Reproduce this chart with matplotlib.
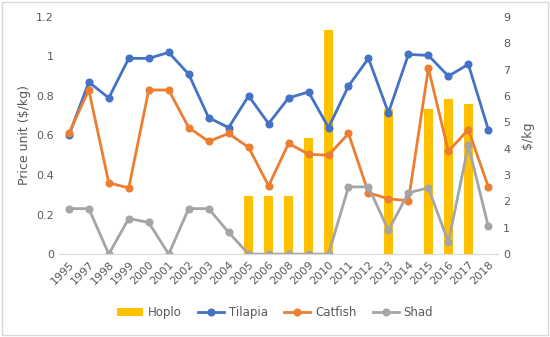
import numpy as np
import matplotlib.pyplot as plt

plt.rcParams['font.family'] = 'DejaVu Sans'

# ------------------------------------------------------------
# data
# ------------------------------------------------------------
years = ['1995', '1997', '1998', '1999', '2000', '2001', '2002', '2003', '2004',
         '2005', '2006', '2008', '2009', '2010', '2011', '2012', '2013', '2014',
         '2015', '2016', '2017', '2018']

hoplo = [0, 0, 0, 0, 0, 0, 0, 0, 0,
         2.2, 2.2, 2.2, 4.4, 8.5, 0, 0, 5.5, 0, 5.5, 5.9, 5.7, 0]

tilapia = [0.60, 0.87, 0.79, 0.99, 0.99, 1.02, 0.91, 0.69, 0.64,
           0.80, 0.66, 0.79, 0.82, 0.64, 0.85, 0.99, 0.715, 1.01,
           1.005, 0.90, 0.96, 0.63]

catfish = [0.61, 0.83, 0.36, 0.335, 0.83, 0.83, 0.64, 0.57, 0.61,
           0.54, 0.345, 0.56, 0.505, 0.50, 0.61, 0.31, 0.28, 0.27,
           0.94, 0.52, 0.63, 0.34]

shad = [0.23, 0.23, 0.0, 0.18, 0.16, 0.0, 0.23, 0.23, 0.11,
        0.0, 0.0, 0.0, 0.0, 0.0, 0.34, 0.34, 0.12, 0.31,
        0.335, 0.06, 0.55, 0.14]

# colours (office palette)
c_hoplo = '#FFC000'
c_tilapia = '#4472C4'
c_catfish = '#ED7D31'
c_shad = '#A5A5A5'
txt = '#595959'

fig = plt.figure(figsize=(5.5, 3.37), dpi=100)
ax = fig.add_axes([0.107, 0.246, 0.799, 0.704])
ax2 = ax.twinx()

x = np.arange(len(years))

# bars on the secondary axis
ax2.bar(x, hoplo, width=0.42, color=c_hoplo, label='Hoplo', zorder=1)
ax2.set_ylim(0, 9)
ax2.set_yticks(range(0, 10))
ax2.set_ylabel('$/kg', color=txt, fontsize=9, labelpad=8, rotation=90)

# lines on primary axis, drawn above bars
ax.set_zorder(ax2.get_zorder() + 1)
ax.patch.set_visible(False)
lw, ms = 2, 4.8
ax.plot(x, tilapia, '-o', color=c_tilapia, lw=lw, ms=ms, label='Tilapia')
ax.plot(x, catfish, '-o', color=c_catfish, lw=lw, ms=ms, label='Catfish')
ax.plot(x, shad, '-o', color=c_shad, lw=lw, ms=ms, label='Shad')

ax.set_ylim(0, 1.2)
ax.set_yticks([0, 0.2, 0.4, 0.6, 0.8, 1.0, 1.2])
ax.set_yticklabels(['0', '0.2', '0.4', '0.6', '0.8', '1', '1.2'])
ax.set_xlim(-0.5, len(years) - 0.5)
ax.set_xticks(x)
ax.set_xticklabels(years, rotation=45, ha='right', rotation_mode='anchor')
ax.set_ylabel('Price unit ($/kg)', color=txt, fontsize=9)

for a in (ax, ax2):
    for s in a.spines.values():
        s.set_visible(False)
    a.tick_params(length=0, colors=txt, labelsize=8)
ax.spines['bottom'].set_visible(True)
ax.spines['bottom'].set_color('#D9D9D9')
ax.tick_params(axis='x', pad=4)

# legend at the bottom
h1, l1 = ax2.get_legend_handles_labels()
h2, l2 = ax.get_legend_handles_labels()
fig.legend(h1 + h2, l1 + l2, loc='center', bbox_to_anchor=(0.5, 0.072),
           ncol=4, frameon=False, fontsize=8.5, labelcolor=txt,
           handlelength=2.2, handletextpad=0.4, columnspacing=1.4)

# light border around the chart
fig.patches.append(plt.Rectangle((0.004, 0.006), 0.992, 0.988, transform=fig.transFigure,
                                 fill=False, edgecolor='#D9D9D9', lw=1))

fig.savefig('out.png', dpi=100)
